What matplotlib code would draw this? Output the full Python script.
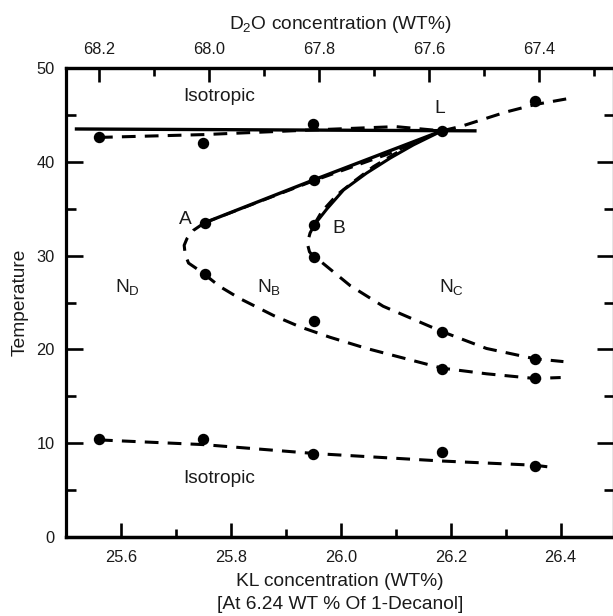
import matplotlib
matplotlib.use('Agg')
import matplotlib.pyplot as plt
from matplotlib.ticker import MultipleLocator, FixedLocator
import numpy as np

plt.rcParams['font.family'] = ['Liberation Sans', 'DejaVu Sans']
plt.rcParams['mathtext.fontset'] = 'custom'
plt.rcParams['mathtext.rm'] = 'Liberation Sans'
plt.rcParams['mathtext.it'] = 'Liberation Sans:italic'

# measured points (KL wt%, temperature)
iso_top_kl = [25.56, 25.75, 25.95, 26.353]
iso_top_t = [42.6, 42.0, 44.0, 46.5]
L_kl, L_t = 26.184, 43.3
A_kl, A_t = 25.752, 33.5
B_kl, B_t = 25.952, 33.3
al_kl = [25.952]
al_t = [38.1]
nbnd_pts_kl = [25.752, 25.952, 26.184, 26.353]
nbnd_pts_t = [28.0, 23.0, 17.9, 16.9]
nbnc_pts_kl = [25.952, 26.184, 26.353]
nbnc_pts_t = [29.8, 21.9, 19.0]
iso_bot_kl = [25.56, 25.75, 25.95, 26.184, 26.353]
iso_bot_t = [10.4, 10.4, 8.9, 9.1, 7.6]

# traced boundary lines
hline_kl = [25.516, 26.247]
hline_t = [43.5, 43.3]
top_dash_kl = [25.56, 25.75, 25.95, 26.10, 26.184, 26.22, 26.30, 26.353, 26.41]
top_dash_t = [42.6, 42.9, 43.4, 43.75, 43.3, 43.8, 45.3, 46.1, 46.7]
al_line_kl = [25.752, 25.952, 26.184]
al_line_t = [33.5, 38.1, 43.3]
al_dash_kl = [25.752, 25.952, 26.09, 26.184]
al_dash_t = [33.5, 38.0, 40.9, 43.3]
bl_line_kl = [25.952, 25.975, 26.005, 26.047, 26.090, 26.132, 26.184]
bl_line_t = [33.3, 35.0, 37.0, 38.8, 40.4, 41.8, 43.3]
bl_dash_kl = [25.952, 25.965, 25.993, 26.023, 26.059, 26.096, 26.132, 26.184]
bl_dash_t = [33.4, 34.7, 36.5, 37.9, 39.5, 40.8, 42.0, 43.3]
nbnd_kl = [25.752, 25.732, 25.72, 25.715, 25.717, 25.723, 25.738, 25.752, 25.78,
           25.817, 25.878, 25.926, 25.98, 26.047, 26.184, 26.265, 26.353, 26.40]
nbnd_t = [33.5, 32.7, 31.8, 31.1, 30.05, 29.2, 28.6, 28.0, 26.7, 25.4, 23.6, 22.4,
          21.3, 20.1, 18.0, 17.4, 16.9, 17.0]
nbnc_kl = [25.952, 25.944, 25.939, 25.943, 25.952, 25.965, 26.017, 26.077, 26.184,
           26.265, 26.353, 26.405]
nbnc_t = [33.3, 32.4, 31.3, 30.4, 29.8, 29.3, 26.8, 24.6, 21.9, 20.1, 19.0, 18.7]
bot_dash_kl = [25.56, 25.75, 25.952, 26.184, 26.353, 26.388]
bot_dash_t = [10.35, 9.85, 8.9, 8.1, 7.65, 7.4]

fig = plt.figure(figsize=(6.13, 6.16), dpi=100)
ax = fig.add_axes([66 / 613, 1 - 537 / 616, (614 - 66) / 613, (537 - 68) / 616])

dash = (0, (4.5, 3.0))
k = 'black'
ax.plot(hline_kl, hline_t, color=k, lw=2.4, solid_capstyle='butt')
ax.plot(top_dash_kl, top_dash_t, color=k, lw=2.2, ls=dash)
ax.plot(al_line_kl, al_line_t, color=k, lw=2.4)
ax.plot(al_dash_kl, al_dash_t, color=k, lw=2.0, ls=dash)
ax.plot(bl_line_kl, bl_line_t, color=k, lw=2.2)
ax.plot(bl_dash_kl, bl_dash_t, color=k, lw=1.9, ls=dash)
ax.plot(nbnd_kl, nbnd_t, color=k, lw=2.2, ls=dash)
ax.plot(nbnc_kl, nbnc_t, color=k, lw=2.2, ls=dash)
ax.plot(bot_dash_kl, bot_dash_t, color=k, lw=2.2, ls=dash)

ms = 7.2
for xs, ys in [(iso_top_kl, iso_top_t), ([L_kl], [L_t]), ([A_kl], [A_t]), ([B_kl], [B_t]),
               (al_kl, al_t), (nbnd_pts_kl, nbnd_pts_t), (nbnc_pts_kl, nbnc_pts_t),
               (iso_bot_kl, iso_bot_t)]:
    ax.plot(xs, ys, 'o', color=k, ms=ms, ls='none')

fs = 13.8
tc = '#1a1a1a'
ax.text(25.779, 47.0, 'Isotropic', ha='center', va='center', fontsize=fs, color=tc)
ax.text(25.779, 6.2, 'Isotropic', ha='center', va='center', fontsize=fs, color=tc)
ax.text(25.718, 33.8, 'A', ha='center', va='center', fontsize=fs, color=tc)
ax.text(25.997, 32.9, 'B', ha='center', va='center', fontsize=fs, color=tc)
ax.text(26.18, 45.7, 'L', ha='center', va='center', fontsize=fs, color=tc)
ax.text(25.611, 26.6, 'N$_\\mathrm{D}$', ha='center', va='center', fontsize=fs, color=tc)
ax.text(25.870, 26.6, 'N$_\\mathrm{B}$', ha='center', va='center', fontsize=fs, color=tc)
ax.text(26.202, 26.7, 'N$_\\mathrm{C}$', ha='center', va='center', fontsize=fs, color=tc)

ax.set_xlim(25.5, 26.497)
ax.set_ylim(0, 50)
ax.xaxis.set_major_locator(FixedLocator([25.6, 25.8, 26.0, 26.2, 26.4]))
ax.xaxis.set_minor_locator(MultipleLocator(0.1))
ax.yaxis.set_major_locator(MultipleLocator(10))
ax.yaxis.set_minor_locator(MultipleLocator(5))
ax.tick_params(which='both', direction='in', top=False, right=True, labelsize=11.8,
               colors=k, labelcolor=tc, width=1.9)
ax.tick_params(which='major', length=10, pad=8)
ax.tick_params(which='minor', length=6)
ax.tick_params(axis='y', which='major', length=12)
ax.tick_params(axis='y', which='minor', length=7)
ax.tick_params(axis='x', pad=9)

for side, w in [('left', 2.3), ('bottom', 2.5), ('top', 2.3), ('right', 2.3)]:
    ax.spines[side].set_linewidth(w)
    ax.spines[side].set_color(k)

ax.set_xlabel('KL concentration (WT%)\n[At 6.24 WT % Of 1-Decanol]', fontsize=13.8,
              labelpad=6, linespacing=1.5, color=tc)
ax.set_ylabel('Temperature', fontsize=13.8, labelpad=6, color=tc)

sec = ax.secondary_xaxis('top', functions=(lambda x: 93.76 - x, lambda x: 93.76 - x))
sec.xaxis.set_major_locator(FixedLocator([68.2, 68.0, 67.8, 67.6, 67.4]))
sec.xaxis.set_minor_locator(FixedLocator([68.1, 67.9, 67.7, 67.5, 67.3]))
sec.tick_params(which='both', direction='in', labelsize=11.8, colors=k, labelcolor=tc,
                width=1.9)
sec.tick_params(which='major', length=10, pad=8)
sec.tick_params(which='minor', length=6)
sec.spines['top'].set_linewidth(2.3)
sec.set_xlabel('D$_2$O concentration (WT%)', fontsize=13.8, labelpad=9, color=tc)

fig.savefig('out.png', dpi=100)
